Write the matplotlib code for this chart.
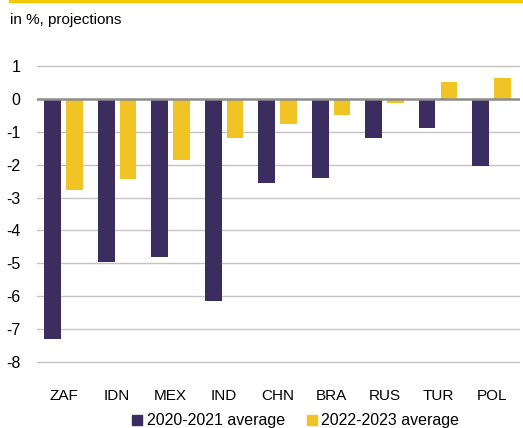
import matplotlib.pyplot as plt
import matplotlib.lines as mlines
import numpy as np

countries = ['ZAF', 'IDN', 'MEX', 'IND', 'CHN', 'BRA', 'RUS', 'TUR', 'POL']
avg_2020_2021 = [-7.3, -4.95, -4.8, -6.15, -2.55, -2.4, -1.2, -0.9, -2.05]
avg_2022_2023 = [-2.78, -2.45, -1.85, -1.2, -0.76, -0.5, -0.13, 0.52, 0.64]
yticks = [1, 0, -1, -2, -3, -4, -5, -6, -7, -8]

purple = '#3b2d60'
yellow = '#f0c424'

plt.rcParams['font.family'] = ['Liberation Sans', 'DejaVu Sans']

fig = plt.figure(figsize=(5.23, 4.28), dpi=100)
ax = fig.add_axes([37 / 523, 1 - 364 / 428, (520 - 37) / 523, (364 - 64) / 428])

x = np.arange(len(countries))
w = 0.31
ax.bar(x - 0.205, avg_2020_2021, width=w, color=purple, zorder=3)
ax.bar(x + 0.205, avg_2022_2023, width=w, color=yellow, zorder=3)

for t in yticks:
    if t == 0:
        ax.axhline(t, color='#8c8c8c', lw=1.8, zorder=4)
    else:
        ax.axhline(t, color='#c4c4c4', lw=1, zorder=1)

ax.set_xlim(-0.5, 8.53)
ax.set_ylim(-8.06, 1.06)
ax.set_yticks(yticks)
ax.set_yticklabels([str(t) for t in yticks], fontsize=11.5)
ax.set_xticks(x)
ax.set_xticklabels(countries, fontsize=11)
ax.tick_params(axis='y', length=0, pad=12)
ax.tick_params(axis='x', length=0, pad=18)
for s in ax.spines.values():
    s.set_visible(False)

fig.text(10 / 523, 1 - 20 / 428, 'in %, projections', fontsize=11, va='center', ha='left')
fig.add_artist(mlines.Line2D([10 / 523, 1], [1 - 1 / 428, 1 - 1 / 428], color='#f5c800', lw=2.5))

h1 = mlines.Line2D([], [], marker='s', color=purple, linestyle='none', markersize=7)
h2 = mlines.Line2D([], [], marker='s', color=yellow, linestyle='none', markersize=7)
fig.legend([h1, h2], ['2020-2021 average', '2022-2023 average'], loc='center',
           bbox_to_anchor=(0.565, 1 - 421 / 428), ncol=2, frameon=False, fontsize=11.5,
           handletextpad=0.25, columnspacing=1.3, handlelength=0.7)

fig.savefig('out.png', dpi=100)
